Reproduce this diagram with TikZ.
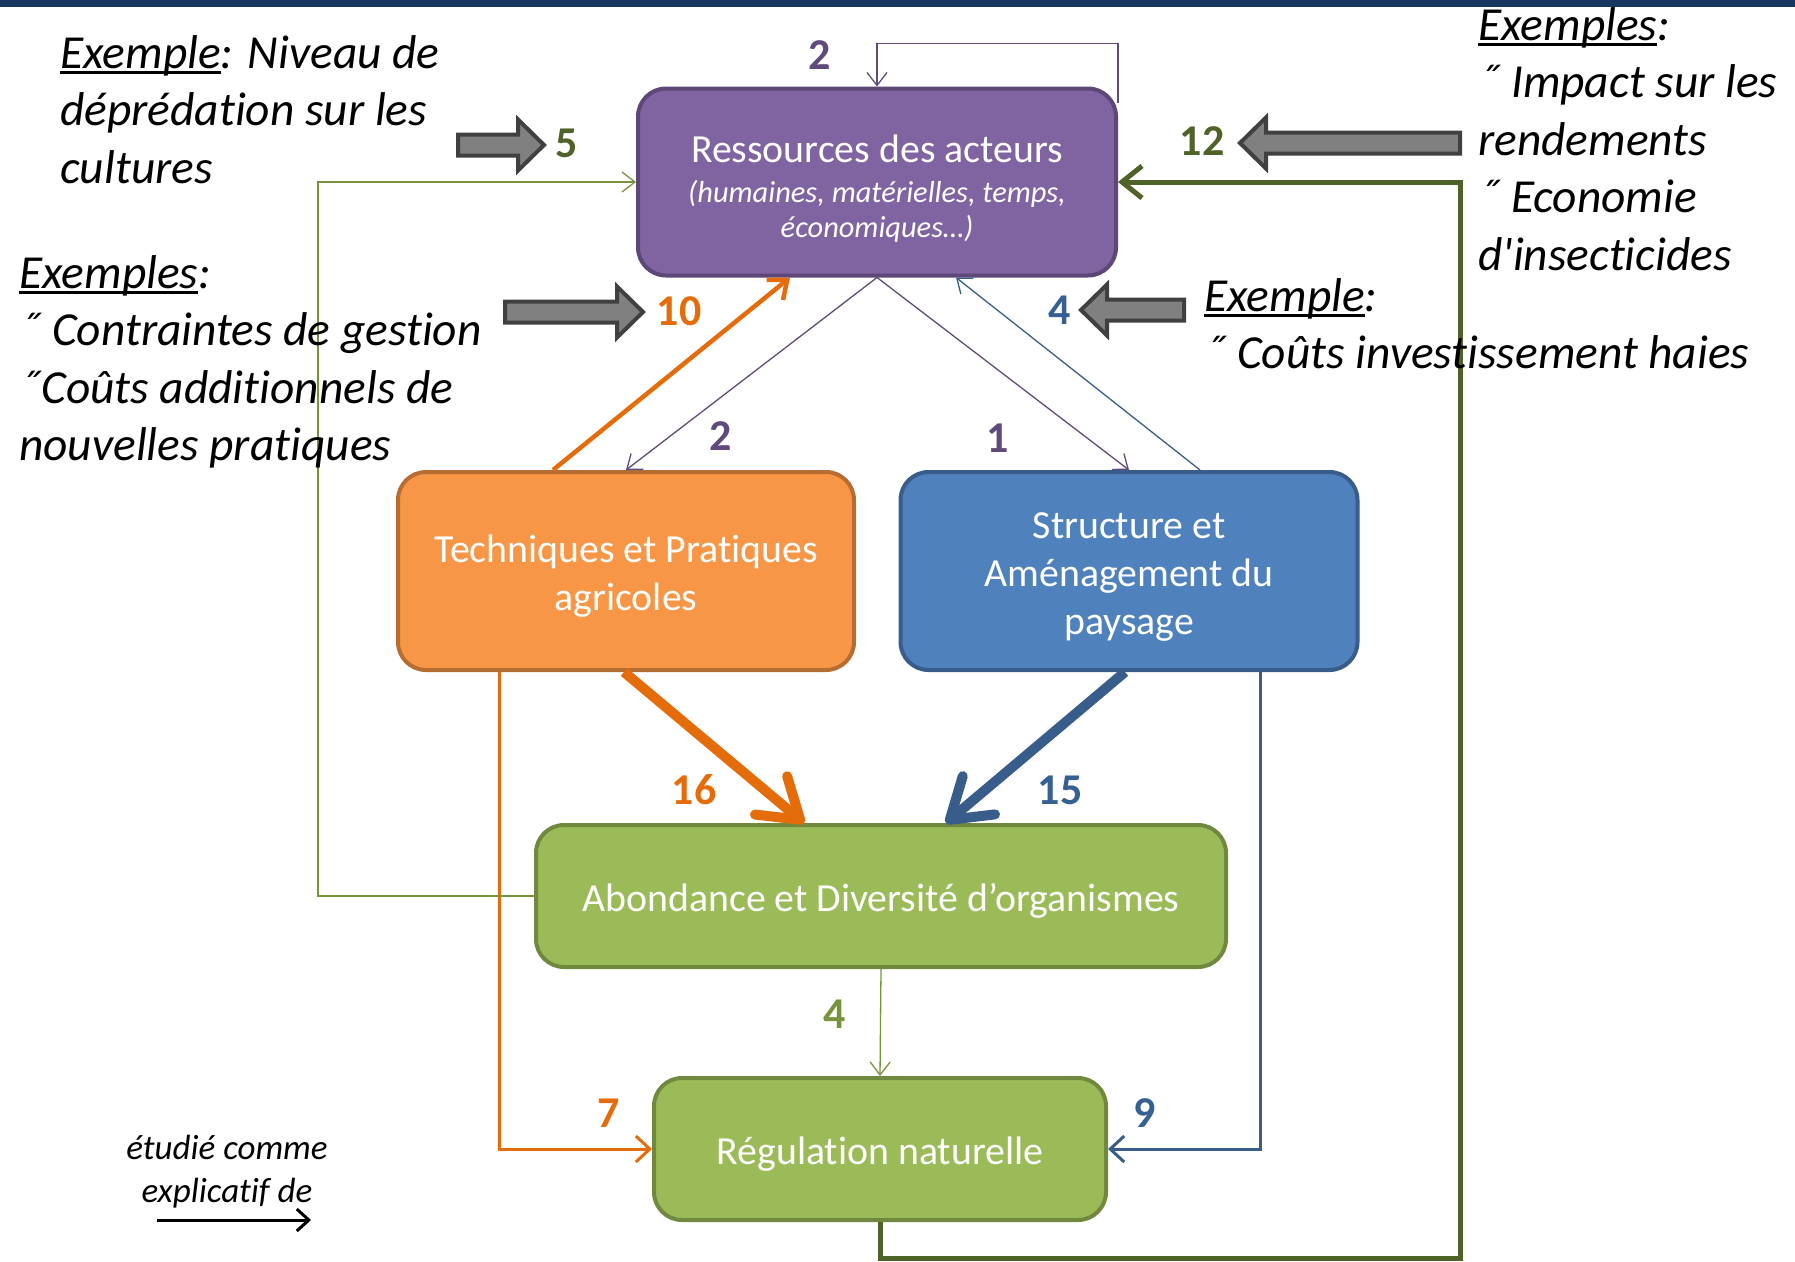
\documentclass[tikz,border=0pt]{standalone}
\usepackage{fontspec}
\setmainfont{Carlito}[Ligatures={TeX,NoCommon}]
\usetikzlibrary{arrows.meta}

\definecolor{barblue}{HTML}{17375E}
\definecolor{resfill}{HTML}{8064A2}
\definecolor{resline}{HTML}{5C4776}
\definecolor{techfill}{HTML}{F79646}
\definecolor{techline}{HTML}{B66D31}
\definecolor{strfill}{HTML}{4F81BD}
\definecolor{strline}{HTML}{385D8A}
\definecolor{orgfill}{HTML}{9BBB59}
\definecolor{orgline}{HTML}{71893F}
\definecolor{numpurple}{HTML}{604A7B}
\definecolor{numorange}{HTML}{E46C0A}
\definecolor{numblue}{HTML}{376092}
\definecolor{numolive}{HTML}{4F6228}
\definecolor{numgreen}{HTML}{77933C}
\definecolor{arrgrey}{HTML}{808080}
\definecolor{arrline}{HTML}{404040}

\newcommand{\boxfont}{\fontsize{39.8}{48}\selectfont}
\newcommand{\subfont}{\fontsize{30.4}{35}\selectfont\itshape}
\newcommand{\notefont}{\fontsize{47.4}{57.5}\selectfont\itshape}
\newcommand{\numfont}{\fontsize{44}{50}\selectfont\bfseries}
\newcommand{\legfont}{\fontsize{35}{43}\selectfont\itshape}
\newcommand{\ulx}[1]{\setbox0\hbox{#1}\rlap{\rule[-6pt]{\wd0}{3pt}}\box0}
% grey block arrow: tail x, neck x, tip x, y
\newcommand{\grarrow}[4]{%
  \draw[grarrow] (#1,#4-10.5) -- (#2,#4-10.5) -- (#2,#4-25.5) -- (#3,#4)
    -- (#2,#4+25.5) -- (#2,#4+10.5) -- (#1,#4+10.5) -- cycle;}

\begin{document}
\begin{tikzpicture}[x=1pt, y=-1pt,
    box/.style={rounded corners=28pt, line width=4pt, text=white, align=center,
      font=\boxfont, inner sep=0pt, execute at begin node={\rule{0pt}{37pt}}},
    num/.style={font=\numfont, inner sep=0pt},
    note/.style={font=\notefont, align=left, anchor=north west, inner sep=0pt},
    grarrow/.style={fill=arrgrey, draw=arrline, line width=4pt},
    fineline/.style={line width=1.3pt, -{Straight Barb[length=13pt,width=20pt]}},
    midline/.style={line width=3pt, -{Straight Barb[length=14pt,width=26pt]}},
    boldline/.style={line width=10pt, -{Straight Barb[length=38pt,width=50pt,round]}}]
  \useasboundingbox (0,0) rectangle (1795,1261);
  \fill[barblue] (0,0) rectangle (1795,7);

  % boxes
  \node[box, fill=resfill, draw=resline, minimum width=478pt, minimum height=187pt] (res) at (877,182)
    {\rule{0pt}{40pt}Ressources des acteurs\\[-8pt]{\subfont (humaines, matérielles, temps,}\\[-13pt]{\subfont économiques…)}};
  \node[box, fill=techfill, draw=techline, minimum width=456pt, minimum height=198pt] (tech) at (626,571)
    {\rule{0pt}{37pt}Techniques et Pratiques\\agricoles};
  \node[box, fill=strfill, draw=strline, minimum width=457pt, minimum height=198pt] (struc) at (1129,571)
    {\rule{0pt}{37pt}Structure et\\Aménagement du\\paysage};
  \node[box, fill=orgfill, draw=orgline, minimum width=690pt, minimum height=142pt] (abond) at (881,896)
    {Abondance et Diversité d’organismes};
  \node[box, fill=orgfill, draw=orgline, minimum width=452pt, minimum height=142pt] (regul) at (880,1149)
    {Régulation naturelle};

  % links
  \draw[fineline, numpurple] ([yshift=-16pt]res.north east) -- ++(0,-59) -| (res.north);
  \draw[fineline, numpurple] (res.south) -- (tech.north);
  \draw[fineline, numpurple] (res.south) -- (struc.north);
  \draw[fineline, strline] ([xshift=71pt]struc.north) -- ([xshift=79pt]res.south);
  \draw[line width=4.5pt, numorange, -{Straight Barb[length=16pt,width=26pt]}]
    ([xshift=-73pt]tech.north) -- ([xshift=-87pt]res.south);
  \draw[boldline, numorange] ([xshift=-2pt]tech.south) -- ([xshift=-77pt]abond.north);
  \draw[boldline, strline] ([xshift=-4pt]struc.south) -- ([xshift=65pt]abond.north);
  \draw[fineline, numgreen] (abond.south) -- (regul.north);
  \draw[midline, numorange] ([xshift=-127pt]tech.south) |- (regul.west);
  \draw[midline, strline] ([xshift=131pt]struc.south) |- (regul.east);
  \coordinate (gleft) at (318,896);
  \draw[fineline, numgreen] (abond.west) -- (gleft) |- (res.west);
  \coordinate (gbottom) at (1460,1258);
  \draw[line width=5pt, numolive, -{Straight Barb[length=20pt,width=32pt]}]
    (regul.south) |- (gbottom) |- (res.east);

  % numbers
  \node[num, numpurple] (n2top) at (820,55) {2};
  \node[num, numolive] (n5) at (567,143) {5};
  \node[num, numolive] (n12) at (1202,141) {12};
  \node[num, numorange] (n10) at (679,311) {10};
  \node[num, numpurple] (n2mid) at (721,436) {2};
  \node[num, numpurple] (n1) at (998,438) {1};
  \node[num, numblue] (n4top) at (1060,310) {4};
  \node[num, numorange] (n16) at (694,790) {16};
  \node[num, numblue] (n15) at (1060,790) {15};
  \node[num, numgreen] (n4low) at (835,1014) {4};
  \node[num, numorange] (n7) at (609,1113) {7};
  \node[num, numblue] (n9) at (1145,1113) {9};

  % grey arrows
  \grarrow{458}{518}{544}{145}
  \grarrow{505}{617}{643}{312}
  \grarrow{1184}{1107}{1081}{310}
  \grarrow{1460}{1266}{1240}{143}

  % examples
  \node[note] (exdepr) at (60,35) {\ulx{Exemple}: Niveau de\\déprédation sur les\\cultures};
  \node[note] (exgest) at (19,255) {\ulx{Exemples}:\\˝ Contraintes de gestion\\˝Coûts additionnels de\\nouvelles pratiques};
  \node[note] (exrend) at (1478,7) {\ulx{Exemples}:\\˝ Impact sur les\\rendements\\˝ Economie\\d\textquotesingle insecticides};
  \node[note] (exhaie) at (1204,278) {\ulx{Exemple}:\\˝ Coûts investissement haies};

  % legend
  \node[font=\legfont, align=center, inner sep=0pt] (legtxt) at (227,1172) {étudié comme\\explicatif de};
  \coordinate (lega) at (157,1220);
  \coordinate (legb) at (311,1220);
  \draw[line width=3pt, -{Straight Barb[length=12pt,width=22pt]}] (lega) -- (legb);
\end{tikzpicture}
\end{document}
